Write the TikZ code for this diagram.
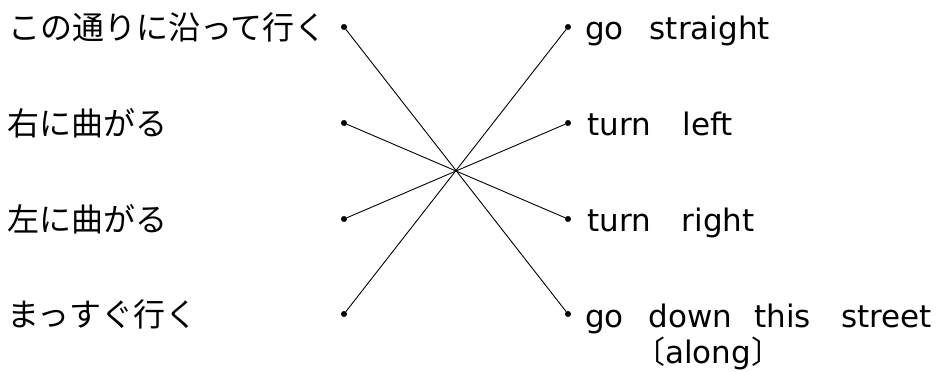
\documentclass[tikz,border=0pt]{standalone}
\usepackage{fontspec}
\setmainfont{DejaVu Sans}
\newfontfamily\jpfont{Noto Sans CJK JP}
\usetikzlibrary{positioning}

\begin{document}
\begin{tikzpicture}[
    x=1pt, y=-1pt,
    dot/.style={circle, draw, fill, inner sep=0pt, minimum size=5.5pt},
    jptext/.style={anchor=west, inner sep=0pt, font=\jpfont\fontsize{32}{32}\selectfont},
    entext/.style={anchor=base west, inner sep=0pt, font=\fontsize{31}{31}\selectfont},
    line/.style={draw, line width=0.9pt}
]
\useasboundingbox (0,0) rectangle (946,372);

% Dots
\node[dot] (l1) at (344,27) {};
\node[dot] (l2) at (344,123) {};
\node[dot] (l3) at (344,219) {};
\node[dot] (l4) at (344,314) {};
\node[dot] (r1) at (568,27) {};
\node[dot] (r2) at (568,123) {};
\node[dot] (r3) at (568,219) {};
\node[dot] (r4) at (568,314) {};

% Japanese
\node[jptext] (jp1) at (8,27) {この通りに沿って行く};
\node[jptext] (jp2) at (7,123) {右に曲がる};
\node[jptext] (jp3) at (7,219) {左に曲がる};
\node[jptext] (jp4) at (7,314) {まっすぐ行く};

% English
\node[entext] (en1) at (585,39) {go\hspace{26pt}straight};
\node[entext] (en2) at (587,135) {turn\hspace{32pt}left};
\node[entext] (en3) at (587,231) {turn\hspace{31pt}right};
\node[entext] (en4) at (585,327) {go\hspace{25pt}down\hspace{22pt}this\hspace{30pt}street};
\node[entext] (en5) at (634,363) {{\jpfont 〔}along{\jpfont 〕}};

% Paths
\path[line] (l1) -- (r4);
\path[line] (l2) -- (r3);
\path[line] (l3) -- (r2);
\path[line] (l4) -- (r1);

\end{tikzpicture}
\end{document}
